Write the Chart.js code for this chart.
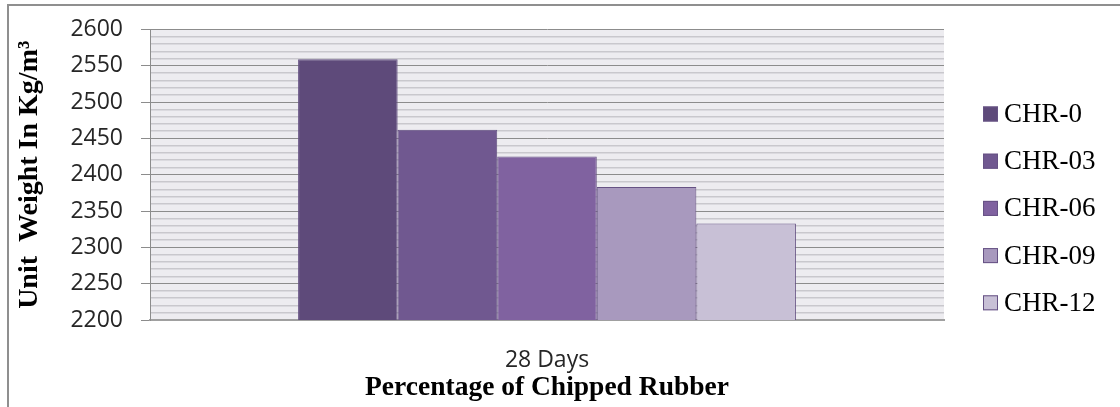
<!DOCTYPE html>
<html>
<head>
<meta charset="utf-8">
<script src="https://cdn.jsdelivr.net/npm/chart.js@4.4.1/dist/chart.umd.min.js"></script>
<style>
  html, body { margin: 0; padding: 0; background: #ffffff; }
  #wrap { width: 1120px; height: 407px; }
</style>
</head>
<body>
<div id="wrap"><canvas id="chart" width="1120" height="407"></canvas></div>
<script>
// Unit weight of chipped-rubber concrete at 28 days
const categories = ['28 Days'];
const seriesNames = ['CHR-0', 'CHR-03', 'CHR-06', 'CHR-09', 'CHR-12'];
const unitWeight = [2559, 2462, 2425, 2383, 2333];
const seriesColors = ['#5e4a7a', '#705890', '#8062a0', '#a899be', '#c8c0d6'];
const yTickLabels = [2200, 2250, 2300, 2350, 2400, 2450, 2500, 2550, 2600];

const serif = '"Liberation Serif", "Times New Roman", serif';
const sans = '"Open Sans", "DejaVu Sans", sans-serif';
const outline = '#665284';

// Plot background, outer frame lines and the series key on the right
const framePlugin = {
  id: 'frameAndKey',
  beforeDraw(chart) {
    const { ctx, chartArea: a } = chart;
    ctx.save();
    ctx.fillStyle = '#ffffff';
    ctx.fillRect(0, 0, chart.width, chart.height);
    ctx.fillStyle = '#edecf0';
    ctx.fillRect(a.left, a.top, a.right - a.left, a.bottom - a.top);
    ctx.restore();
  },
  afterDraw(chart) {
    const { ctx } = chart;
    ctx.save();
    // frame
    ctx.strokeStyle = '#8f8f8f';
    ctx.lineWidth = 2;
    ctx.beginPath();
    ctx.moveTo(8, 407);
    ctx.lineTo(8, 5);
    ctx.lineTo(1120, 5);
    ctx.stroke();
    // key
    const boxX = 983, boxSize = 15, textX = 1004, firstY = 114, stepY = 47.2;
    ctx.font = '27px ' + serif;
    ctx.textBaseline = 'middle';
    ctx.textAlign = 'left';
    chart.data.datasets.forEach((ds, i) => {
      const cy = firstY + i * stepY;
      ctx.fillStyle = ds.backgroundColor;
      ctx.fillRect(boxX, cy - boxSize / 2, boxSize, boxSize);
      ctx.strokeStyle = ds.borderColor;
      ctx.lineWidth = 1;
      ctx.strokeRect(boxX + 0.5, cy - boxSize / 2 + 0.5, boxSize - 1, boxSize - 1);
      ctx.fillStyle = '#000000';
      ctx.fillText(ds.label, textX, cy + 1);
    });
    ctx.restore();
  }
};

const isMajor = v => yTickLabels.includes(v);

new Chart(document.getElementById('chart'), {
  type: 'bar',
  data: {
    labels: categories,
    datasets: seriesNames.map((name, i) => ({
      label: name,
      data: [unitWeight[i]],
      backgroundColor: seriesColors[i],
      borderColor: outline,
      borderWidth: 1,
      barPercentage: 1,
      categoryPercentage: 0.627
    }))
  },
  options: {
    responsive: false,
    animation: false,
    devicePixelRatio: 1,
    layout: { padding: { top: 26.5, right: 176, bottom: 0, left: 0 } },
    plugins: {
      legend: { display: false },
      tooltip: { enabled: false }
    },
    scales: {
      x: {
        grid: { display: false, drawTicks: false },
        border: { display: true, color: '#a0a0a0', width: 2 },
        ticks: {
          font: { family: sans, size: 23, lineHeight: 1 },
          color: '#262626',
          padding: 28.5
        },
        title: {
          display: true,
          text: 'Percentage of Chipped Rubber',
          font: { family: serif, size: 27.5, weight: 'bold', lineHeight: 1 },
          color: '#000000',
          padding: { top: 0, bottom: 5 }
        },
        afterFit(scale) { scale.height = 87; }
      },
      y: {
        min: 2200,
        max: 2600,
        grid: {
          drawOnChartArea: true,
          tickLength: 9,
          color: c => isMajor(c.tick.value) ? '#8c8c8c' : '#c9c8cd',
          lineWidth: c => isMajor(c.tick.value) ? 1 : 1.5,
          tickColor: c => isMajor(c.tick.value) ? '#8c8c8c' : 'rgba(0,0,0,0)',
          tickWidth: 1
        },
        border: { display: true, color: '#8c8c8c', width: 1 },
        ticks: {
          stepSize: 10,
          autoSkip: false,
          maxTicksLimit: 100,
          padding: 18,
          font: { family: sans, size: 23, lineHeight: 1 },
          color: '#262626',
          callback: v => isMajor(v) ? String(v) : ''
        },
        title: {
          display: true,
          text: 'Unit  Weight In Kg/m³',
          font: { family: serif, size: 28, weight: 'bold', lineHeight: 1 },
          color: '#000000',
          padding: { top: 16, bottom: 0 }
        },
        afterFit(scale) { scale.width = 150; }
      }
    }
  },
  plugins: [framePlugin]
});
</script>
</body>
</html>
